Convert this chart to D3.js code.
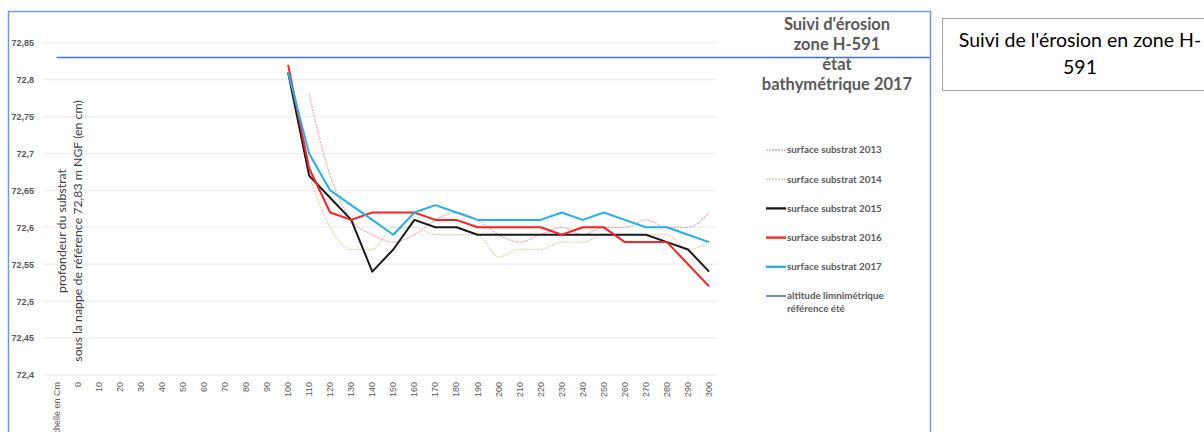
<!DOCTYPE html>
<html>
<head>
<meta charset="utf-8">
<title>Suivi d'érosion zone H-591</title>
<script src="https://cdn.jsdelivr.net/npm/d3@7/dist/d3.min.js"></script>
<style>
  body { margin: 0; background: #fff; }
  svg { display: block; font-family: Lato, "Open Sans", sans-serif; }
  .axis text { font-size: 9px; font-weight: bold; fill: #595959; }
  .xaxis text { font-weight: normal; fill: #595959; }
  .axis path, .axis line { display: none; }
  .grid line { stroke: #efefef; stroke-width: 1.5; }
  .legend text { font-size: 9.8px; font-weight: bold; fill: #595959; }
</style>
</head>
<body>
<svg id="chart" width="1204" height="432"></svg>
<script>
// categories on the x axis (distance in cm)
var categories = ["Echelle en Cm", "0", "10", "20", "30", "40", "50", "60", "70", "80", "90",
  "100", "110", "120", "130", "140", "150", "160", "170", "180", "190", "200",
  "210", "220", "230", "240", "250", "260", "270", "280", "290", "300"];

// measured points: 100 -> 300 cm
var distances = ["100", "110", "120", "130", "140", "150", "160", "170", "180", "190", "200",
  "210", "220", "230", "240", "250", "260", "270", "280", "290", "300"];

var s2013 = [null, 72.78, 72.67, 72.61, 72.59, 72.58, 72.59, 72.61, 72.62, 72.61, 72.59,
  72.58, 72.59, 72.60, 72.59, 72.60, 72.60, 72.61, 72.60, 72.60, 72.62];
var s2014 = [null, 72.67, 72.60, 72.57, 72.57, 72.60, 72.60, 72.59, 72.59, 72.59, 72.56,
  72.57, 72.57, 72.58, 72.58, 72.59, 72.59, 72.59, 72.59, 72.57, 72.58];
var s2015 = [72.81, 72.67, 72.64, 72.61, 72.54, 72.57, 72.61, 72.60, 72.60, 72.59, 72.59,
  72.59, 72.59, 72.59, 72.59, 72.59, 72.59, 72.59, 72.58, 72.57, 72.54];
var s2016 = [72.82, 72.68, 72.62, 72.61, 72.62, 72.62, 72.62, 72.61, 72.61, 72.60, 72.60,
  72.60, 72.60, 72.59, 72.60, 72.60, 72.58, 72.58, 72.58, 72.55, 72.52];
var s2017 = [72.81, 72.70, 72.65, 72.63, 72.61, 72.59, 72.62, 72.63, 72.62, 72.61, 72.61,
  72.61, 72.61, 72.62, 72.61, 72.62, 72.61, 72.60, 72.60, 72.59, 72.58];

var reference = 72.83;

var yTicks = [72.4, 72.45, 72.5, 72.55, 72.6, 72.65, 72.7, 72.75, 72.8, 72.85];

var seriesNames = ["surface substrat 2013", "surface substrat 2014", "surface substrat 2015",
  "surface substrat 2016", "surface substrat 2017"];
var seriesColors = ["#e8aab2", "#d8d8b0", "#1a1a1a", "#ff2020", "#20b2e6"];
var refName = ["altitude limnimétrique", "référence été"];
var refColor = "#4472c4";

var titleLines = ["Suivi d'érosion", "zone H-591", "état", "bathymétrique 2017"];
var boxLines = ["Suivi de l'érosion en zone H-", "591"];

var svg = d3.select("#chart");

// chart frame
svg.append("rect")
  .attr("x", 8.5).attr("y", 11.5)
  .attr("width", 922).attr("height", 450)
  .attr("fill", "#fff")
  .attr("stroke", "#6f9bd6")
  .attr("stroke-width", 1.5);

var x = d3.scaleBand()
  .domain(categories)
  .range([46, 719.6]);
var y = d3.scaleLinear()
  .domain([72.4, 72.85])
  .range([375, 42.7]);

function cx(c) { return x(c) + x.bandwidth() / 2; }

// horizontal gridlines
svg.append("g").attr("class", "grid")
  .selectAll("line")
  .data(yTicks)
  .enter().append("line")
    .attr("x1", 43).attr("x2", 717)
    .attr("y1", function(d) { return y(d); })
    .attr("y2", function(d) { return y(d); });

var fmt = function(d) { return String(d).replace(".", ","); };

svg.append("g")
  .attr("class", "axis")
  .attr("transform", "translate(37,0)")
  .call(d3.axisLeft(y).tickValues(yTicks).tickFormat(fmt).tickSize(0).tickPadding(3));

var xAxis = svg.append("g")
  .attr("class", "axis xaxis")
  .attr("transform", "translate(0,382)")
  .call(d3.axisBottom(x).tickSize(0).tickPadding(0));
xAxis.selectAll("text")
  .attr("transform", "rotate(-90)")
  .attr("text-anchor", "end")
  .attr("x", 0)
  .attr("y", 0)
  .attr("dx", 0)
  .attr("dy", "0.33em");

// y axis title (two rotated lines)
var ytitle = svg.append("text")
  .attr("transform", "translate(70,231) rotate(-90)")
  .attr("text-anchor", "middle")
  .style("font-size", "12.3px")
  .style("fill", "#404040");
ytitle.append("tspan").attr("x", 0).attr("y", -4).text("profondeur  du substrat");
ytitle.append("tspan").attr("x", 0).attr("y", 12).text("sous la nappe de référence 72,83 m NGF  (en cm)");

// reference level
svg.append("line")
  .attr("x1", cx(categories[0])).attr("x2", 930)
  .attr("y1", y(reference)).attr("y2", y(reference))
  .attr("stroke", refColor)
  .attr("stroke-width", 1.6);

var allSeries = [s2013, s2014, s2015, s2016, s2017];
var curves = [d3.curveMonotoneX, d3.curveMonotoneX, d3.curveLinear, d3.curveLinear, d3.curveLinear];
var widths = [1.2, 1.2, 2, 2, 2];
var dashes = ["2,1", "2,1", null, null, null];

allSeries.forEach(function(vals, i) {
  var pts = vals.map(function(v, j) { return {c: distances[j], v: v}; });
  var line = d3.line()
    .defined(function(d) { return d.v != null; })
    .x(function(d) { return cx(d.c); })
    .y(function(d) { return y(d.v); })
    .curve(curves[i]);
  svg.append("path")
    .datum(pts)
    .attr("d", line)
    .attr("fill", "none")
    .attr("stroke", seriesColors[i])
    .attr("stroke-width", widths[i])
    .attr("stroke-dasharray", dashes[i])
    .attr("stroke-linejoin", "round");
});

// legend
var legend = svg.append("g").attr("class", "legend");
var legY = d3.scaleLinear().domain([0, 5]).range([150, 296]);
seriesNames.forEach(function(name, i) {
  var g = legend.append("g").attr("transform", "translate(766," + legY(i) + ")");
  g.append("line").attr("x1", 0).attr("x2", 20)
    .attr("stroke", seriesColors[i]).attr("stroke-width", widths[i] + 0.3)
    .attr("stroke-dasharray", dashes[i]);
  g.append("text").attr("x", 21).attr("dy", "0.35em").text(name);
});
var gr = legend.append("g").attr("transform", "translate(766," + legY(5) + ")");
gr.append("line").attr("x1", 0).attr("x2", 20).attr("stroke", refColor).attr("stroke-width", 1.6);
gr.append("text").attr("x", 21).attr("dy", "0.35em").text(refName[0]);
gr.append("text").attr("x", 21).attr("y", 13).attr("dy", "0.35em").text(refName[1]);

// chart title
svg.append("g").selectAll("text")
  .data(titleLines)
  .enter().append("text")
    .attr("x", 837)
    .attr("y", function(d, i) { return 24 + i * 20; })
    .attr("dy", "0.35em")
    .attr("text-anchor", "middle")
    .style("font-size", "16.5px")
    .style("font-weight", "bold")
    .style("fill", "#595959")
    .text(function(d) { return d; });

// side text box
svg.append("rect")
  .attr("x", 942.5).attr("y", 18.5)
  .attr("width", 280).attr("height", 72)
  .attr("fill", "#fff")
  .attr("stroke", "#a6a6a6")
  .attr("stroke-width", 1);
svg.append("g").selectAll("text")
  .data(boxLines)
  .enter().append("text")
    .attr("x", 1080)
    .attr("y", function(d, i) { return 40 + i * 27; })
    .attr("dy", "0.35em")
    .attr("text-anchor", "middle")
    .style("font-size", "19.5px")
    .style("fill", "#000")
    .text(function(d) { return d; });
</script>
</body>
</html>
